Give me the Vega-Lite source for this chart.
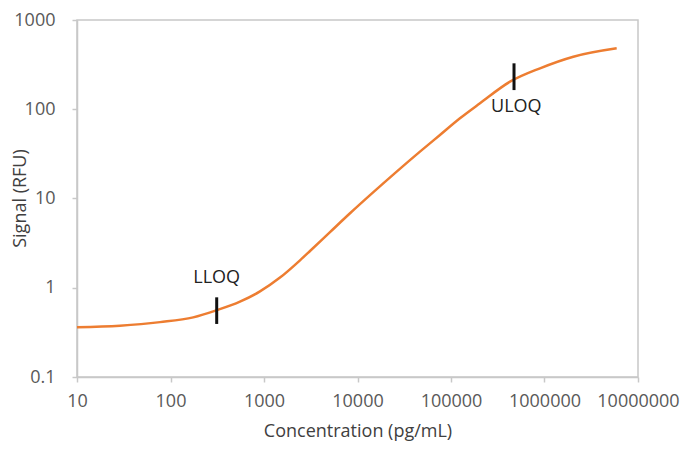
{
  "$schema": "https://vega.github.io/schema/vega-lite/v6.json",
  "width": 561,
  "height": 357,
  "autosize": "none",
  "padding": {"left": 77, "top": 20, "right": 56, "bottom": 86},
  "background": "white",
  "config": {
    "font": "Open Sans",
    "view": {"stroke": "#c8c8c8", "strokeWidth": 1.5},
    "axis": {
      "grid": false,
      "domainColor": "#c8c8c8",
      "domainWidth": 1.5,
      "tickColor": "#c8c8c8",
      "tickWidth": 1.5,
      "tickSize": 5,
      "labelFont": "Open Sans",
      "labelFontSize": 18,
      "labelColor": "#595959",
      "titleFont": "Open Sans",
      "titleFontSize": 18,
      "titleFontWeight": "normal",
      "titleColor": "#404040"
    }
  },
  "datasets": {
    "curve": [
      {"conc": 10, "signal": 0.361},
      {"conc": 28.8, "signal": 0.376},
      {"conc": 77.3, "signal": 0.412},
      {"conc": 175, "signal": 0.466},
      {"conc": 312, "signal": 0.56},
      {"conc": 553, "signal": 0.698},
      {"conc": 906, "signal": 0.91},
      {"conc": 1483, "signal": 1.3},
      {"conc": 2427, "signal": 2.03},
      {"conc": 3105, "signal": 2.58},
      {"conc": 5080, "signal": 4.2},
      {"conc": 8318, "signal": 6.83},
      {"conc": 13610, "signal": 10.9},
      {"conc": 26240, "signal": 20.0},
      {"conc": 46560, "signal": 33.5},
      {"conc": 76210, "signal": 51.5},
      {"conc": 124700, "signal": 79.2},
      {"conc": 204200, "signal": 116.6},
      {"conc": 427600, "signal": 203.6},
      {"conc": 895300, "signal": 287.7},
      {"conc": 2034000, "signal": 388},
      {"conc": 5916000, "signal": 482}
    ],
    "limits": [
      {"label": "LLOQ", "conc": 312, "low": 0.393, "high": 0.781, "labelConc": 312, "labelSignal": 1.285},
      {"label": "ULOQ", "conc": 472000, "low": 164, "high": 327, "labelConc": 500000, "labelSignal": 106}
    ]
  },
  "layer": [
    {
      "data": {"name": "curve"},
      "mark": {"type": "line", "color": "#ED7D31", "strokeWidth": 2.5, "interpolate": "monotone"},
      "encoding": {
        "x": {
          "field": "conc", "type": "quantitative",
          "scale": {"type": "log", "domain": [10, 10000000], "nice": false},
          "axis": {"values": [10, 100, 1000, 10000, 100000, 1000000, 10000000], "format": "d", "labelPadding": 10, "titlePadding": 12, "labelFlush": false},
          "title": "Concentration (pg/mL)"
        },
        "y": {
          "field": "signal", "type": "quantitative",
          "scale": {"type": "log", "domain": [0.1, 1000], "nice": false},
          "axis": {"values": [0.1, 1, 10, 100, 1000], "format": "~g", "labelPadding": 17, "labelFlush": false, "titleX": -57, "titleY": 178, "titleBaseline": "middle", "titleAlign": "center"},
          "title": "Signal (RFU)"
        }
      }
    },
    {
      "data": {"name": "limits"},
      "mark": {"type": "rule", "color": "#111111", "strokeWidth": 3},
      "encoding": {
        "x": {"field": "conc", "type": "quantitative"},
        "y": {"field": "low", "type": "quantitative"},
        "y2": {"field": "high"}
      }
    },
    {
      "data": {"name": "limits"},
      "mark": {"type": "text", "font": "Open Sans", "fontSize": 18, "color": "#222222", "baseline": "middle", "align": "center"},
      "encoding": {
        "x": {"field": "labelConc", "type": "quantitative"},
        "y": {"field": "labelSignal", "type": "quantitative"},
        "text": {"field": "label"}
      }
    }
  ]
}
